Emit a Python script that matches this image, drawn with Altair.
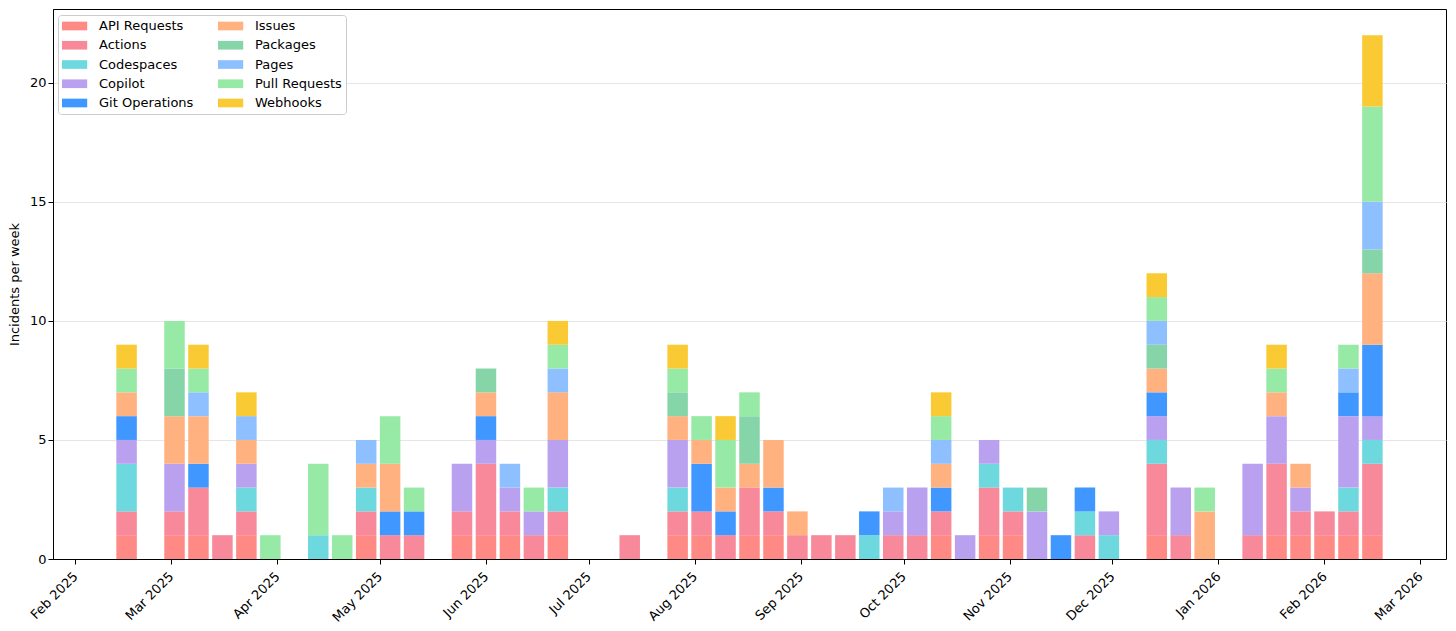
import altair as alt
import pandas as pd

weeks = ["2025-02-16","2025-03-02","2025-03-09","2025-03-16","2025-03-23","2025-03-30","2025-04-13",
         "2025-04-20","2025-04-27","2025-05-04","2025-05-11","2025-05-25","2025-06-01","2025-06-08",
         "2025-06-15","2025-06-22","2025-07-13","2025-07-27","2025-08-03","2025-08-10","2025-08-17",
         "2025-08-24","2025-08-31","2025-09-07","2025-09-14","2025-09-21","2025-09-28","2025-10-05",
         "2025-10-12","2025-10-19","2025-10-26","2025-11-02","2025-11-09","2025-11-16","2025-11-23",
         "2025-11-30","2025-12-14","2025-12-21","2025-12-28","2026-01-11","2026-01-18","2026-01-25",
         "2026-02-01","2026-02-08","2026-02-15"]

api_requests = [1,1,1,0,1,0,0,0,1,0, 0,1,1,1,0,1,0,1,1,0, 1,1,0,0,0,0,0,0,1,0, 1,1,0,0,0,0,1,0,0,0, 1,1,1,1,1]
actions      = [1,1,2,1,1,0,0,0,1,1, 1,1,3,1,1,1,1,1,1,1, 2,1,1,1,1,0,1,1,1,0, 2,1,0,0,1,0,3,1,0,1, 3,1,1,1,3]
codespaces   = [2,0,0,0,1,0,1,0,1,0, 0,0,0,0,0,1,0,1,0,0, 0,0,0,0,0,1,0,0,0,0, 1,1,0,0,1,1,1,0,0,0, 0,0,0,1,1]
copilot      = [1,2,0,0,1,0,0,0,0,0, 0,2,1,1,1,2,0,2,0,0, 0,0,0,0,0,0,1,2,0,1, 1,0,2,0,0,1,1,2,0,3, 2,1,0,3,1]
git_ops      = [1,0,1,0,0,0,0,0,0,1, 1,0,1,0,0,0,0,0,2,1, 0,1,0,0,0,1,0,0,1,0, 0,0,0,1,1,0,1,0,0,0, 0,0,0,1,3]
issues       = [1,2,2,0,1,0,0,0,1,2, 0,0,1,0,0,2,0,1,1,1, 1,2,1,0,0,0,0,0,1,0, 0,0,0,0,0,0,1,0,2,0, 1,1,0,0,3]
packages     = [0,2,0,0,0,0,0,0,0,0, 0,0,1,0,0,0,0,1,0,0, 2,0,0,0,0,0,0,0,0,0, 0,0,1,0,0,0,1,0,0,0, 0,0,0,0,1]
pages        = [0,0,1,0,1,0,0,0,1,0, 0,0,0,1,0,1,0,0,0,0, 0,0,0,0,0,0,1,0,1,0, 0,0,0,0,0,0,1,0,0,0, 0,0,0,1,2]
pull_requests= [1,2,1,0,0,1,3,1,0,2, 1,0,0,0,1,1,0,1,1,2, 1,0,0,0,0,0,0,0,1,0, 0,0,0,0,0,0,1,0,1,0, 1,0,0,1,4]
webhooks     = [1,0,1,0,1,0,0,0,0,0, 0,0,0,0,0,1,0,1,0,1, 0,0,0,0,0,0,0,0,1,0, 0,0,0,0,0,0,1,0,0,0, 1,0,0,0,3]

services = ["API Requests","Actions","Codespaces","Copilot","Git Operations",
            "Issues","Packages","Pages","Pull Requests","Webhooks"]
colors = ["#FF8A85","#F7899A","#6DD9DF","#B9A1F0","#3F97FF",
          "#FFB180","#86D5A9","#8EBFFF","#97E9A6","#F9CA34"]
series = [api_requests, actions, codespaces, copilot, git_ops,
          issues, packages, pages, pull_requests, webhooks]

rows = []
for si, (name, vals) in enumerate(zip(services, series)):
    for w, v in zip(weeks, vals):
        if v > 0:
            rows.append({"week": w, "service": name, "count": v, "order": si})
df = pd.DataFrame(rows)

chart = alt.Chart(df).mark_bar(width=20.5).encode(
    x=alt.X("week:T",
            scale=alt.Scale(type="utc", padding=0,
                            domain=["2025-01-25T12:00:00Z", "2026-03-08T12:00:00Z"]),
            axis=alt.Axis(title=None, labelExpr="utcFormat(datum.value, '%b %Y')",
                          tickCount={"interval": "month", "step": 1},
                          labelAngle=315, labelAlign="right", labelBaseline="middle",
                          grid=False, labelPadding=10)),
    y=alt.Y("count:Q", stack="zero",
            scale=alt.Scale(domain=[0, 23.1], nice=False),
            axis=alt.Axis(title="Incidents per week", values=[0, 5, 10, 15, 20],
                          grid=True, gridColor="#e6e6e6", titlePadding=8)),
    color=alt.Color("service:N",
                    scale=alt.Scale(domain=services, range=colors),
                    legend=alt.Legend(title=None, orient="none", legendX=5, legendY=6,
                                      columns=2, symbolType="M-1,-0.62H2.6V0.62H-1Z",
                                      symbolSize=196, symbolStrokeWidth=0,
                                      labelOffset=23, rowPadding=5.25, columnPadding=24,
                                      padding=4, strokeColor="#cccccc", fillColor="white",
                                      cornerRadius=3, labelFontSize=13, labelColor="black")),
    order=alt.Order("order:Q", sort="ascending"),
).properties(
    width=1393, height=550,
    padding={"left": 0, "top": 1, "right": 2, "bottom": 2},
).configure(
    font="DejaVu Sans",
).configure_view(
    stroke="black", strokeWidth=1,
).configure_axis(
    labelFontSize=13, labelColor="black", titleFontSize=13, titleColor="black",
    titleFontWeight="normal", tickColor="black", domainColor="black",
    tickSize=5, labelFont="DejaVu Sans", titleFont="DejaVu Sans",
).configure_legend(
    labelFont="DejaVu Sans",
)

chart.save("out.html", embed_options={"renderer": "svg", "actions": False})
